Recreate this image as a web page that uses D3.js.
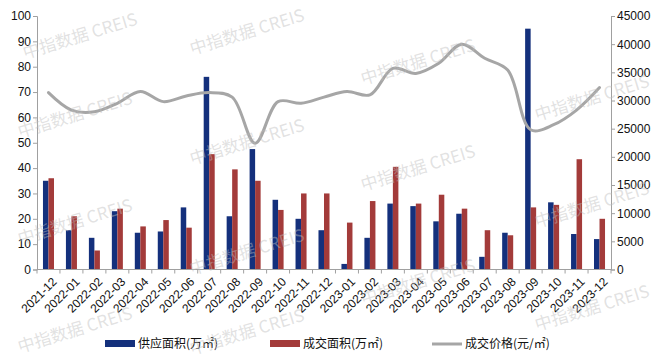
<!DOCTYPE html>
<html><head><meta charset="utf-8">
<script src="https://cdn.jsdelivr.net/npm/d3@7"></script>
<style>
html,body{margin:0;padding:0;background:#fff;}
svg{display:block;}
</style></head>
<body><svg id="c" width="660" height="361"></svg>
<script>
const categories = ["2021-12","2022-01","2022-02","2022-03","2022-04","2022-05","2022-06","2022-07","2022-08","2022-09","2022-10","2022-11","2022-12","2023-01","2023-02","2023-03","2023-04","2023-05","2023-06","2023-07","2023-08","2023-09","2023-10","2023-11","2023-12"];
const supply = [35, 15.5, 12.5, 23, 14.5, 15, 24.5, 76, 21, 47.5, 27.5, 20, 15.5, 2.2, 12.5, 26, 25, 19, 22, 5, 14.5, 95, 26.5, 14, 12];
const deal = [36, 21, 7.5, 24, 17, 19.5, 16.5, 45.5, 39.5, 35, 23.5, 30, 30, 18.5, 27, 40.5, 26, 29.5, 24, 15.5, 13.5, 24.5, 25.5, 43.5, 20];
const price = [31400, 28300, 28000, 29500, 31600, 29800, 30800, 31400, 30600, 22400, 29800, 29500, 30600, 31600, 31000, 35700, 34800, 36600, 40000, 37500, 35400, 24800, 25700, 28300, 32300];
const leftTicks = [0,10,20,30,40,50,60,70,80,90,100];
const rightTicks = [0,5000,10000,15000,20000,25000,30000,35000,40000,45000];
const seriesNames = ["供应面积(万㎡)","成交面积(万㎡)","成交价格(元/㎡)"];
const colors = ["#14307c","#a33b3a","#a6a6a6"];

const svg = d3.select("#c");
const L = 37, R = 611, T = 16, B = 269.5;
const numFont = "'Liberation Sans', Arial, sans-serif";
const cjkFont = "'Noto Sans CJK SC', 'Noto Sans', sans-serif";

const x0 = d3.scaleBand().domain(categories).range([L, R]).paddingInner(0.52).paddingOuter(0.26);
const x1 = d3.scaleBand().domain(["s","d"]).range([0, x0.bandwidth()]);
const yL = d3.scaleLinear().domain([0,100]).range([B, T]);
const yR = d3.scaleLinear().domain([0,45000]).range([B, T]);
const step = x0.step();
const cx = c => x0(c) + x0.bandwidth()/2;

// bars
const g = svg.append("g");
g.selectAll("rect.s").data(categories).join("rect")
  .attr("x", c => x0(c) + x1("s")).attr("width", x1.bandwidth())
  .attr("y", (c,i) => yL(supply[i])).attr("height", (c,i) => B - yL(supply[i]))
  .attr("fill", colors[0]);
g.selectAll("rect.d").data(categories).join("rect")
  .attr("x", c => x0(c) + x1("d")).attr("width", x1.bandwidth())
  .attr("y", (c,i) => yL(deal[i])).attr("height", (c,i) => B - yL(deal[i]))
  .attr("fill", colors[1]);

// line
const line = d3.line().x((d,i) => cx(categories[i])).y(d => yR(d)).curve(d3.curveCatmullRom.alpha(0.5));
svg.append("path").datum(price).attr("d", line).attr("fill","none")
  .attr("stroke", colors[2]).attr("stroke-width", 3).attr("stroke-linecap","round");

// axes
const axL = svg.append("g").attr("transform", `translate(${L},0)`)
  .call(d3.axisLeft(yL).tickValues(leftTicks).tickSize(4).tickPadding(2));
const axR = svg.append("g").attr("transform", `translate(${R},0)`)
  .call(d3.axisRight(yR).tickValues(rightTicks).tickFormat(d3.format("d")).tickSize(4).tickPadding(2));
[axL, axR].forEach(a => {
  a.select(".domain").attr("stroke","#a0a0a0");
  a.selectAll(".tick line").attr("stroke","#a0a0a0");
  a.selectAll("text").attr("font-family", numFont).attr("font-size", 12).attr("fill","#111");
});

// x axis
const ax = svg.append("g");
ax.append("line").attr("x1", L).attr("x2", R).attr("y1", B).attr("y2", B).attr("stroke","#a0a0a0");
ax.selectAll("line.t").data(d3.range(categories.length + 1)).join("line")
  .attr("x1", i => L + i*step).attr("x2", i => L + i*step)
  .attr("y1", B).attr("y2", B + 4).attr("stroke","#a0a0a0");
ax.selectAll("text").data(categories).join("text")
  .attr("transform", c => `translate(${cx(c)+3},${B+7}) rotate(-45)`)
  .attr("text-anchor","end").attr("dy","0.7em")
  .attr("font-family", numFont).attr("font-size", 12).attr("fill","#111")
  .text(c => c);

// legend
const legend = [
  {x: 105, name: seriesNames[0], color: colors[0], type: "rect"},
  {x: 270, name: seriesNames[1], color: colors[1], type: "rect"},
  {x: 432, name: seriesNames[2], color: colors[2], type: "line"}
];
const lg = svg.append("g");
legend.forEach(d => {
  if (d.type === "rect") {
    lg.append("rect").attr("x", d.x).attr("y", 340).attr("width", 30).attr("height", 7).attr("fill", d.color);
  } else {
    lg.append("line").attr("x1", d.x).attr("x2", d.x+30).attr("y1", 344).attr("y2", 344)
      .attr("stroke", d.color).attr("stroke-width", 3);
  }
  lg.append("text").attr("x", d.x + 33).attr("y", 344).attr("dy","0.35em")
    .attr("font-family", cjkFont).attr("font-size", 12).attr("fill","#111").text(d.name);
});

// watermarks
const wm = [[80,36],[75,115],[75,222],[75,330],[247,32],[247,142],[247,252],[247,332],[418,62],[418,168],[418,282],[592,98],[592,205],[592,308]];
const wg = svg.append("g").attr("pointer-events","none");
wm.forEach(p => {
  wg.append("text").attr("transform", `translate(${p[0]},${p[1]}) rotate(-17)`)
    .attr("text-anchor","middle").attr("dy","0.35em")
    .attr("font-family", cjkFont).attr("font-size", 17)
    .attr("fill","#bdbdbd").attr("fill-opacity",0.45)
    .text("中指数据  CREIS");
});
</script></body></html>
